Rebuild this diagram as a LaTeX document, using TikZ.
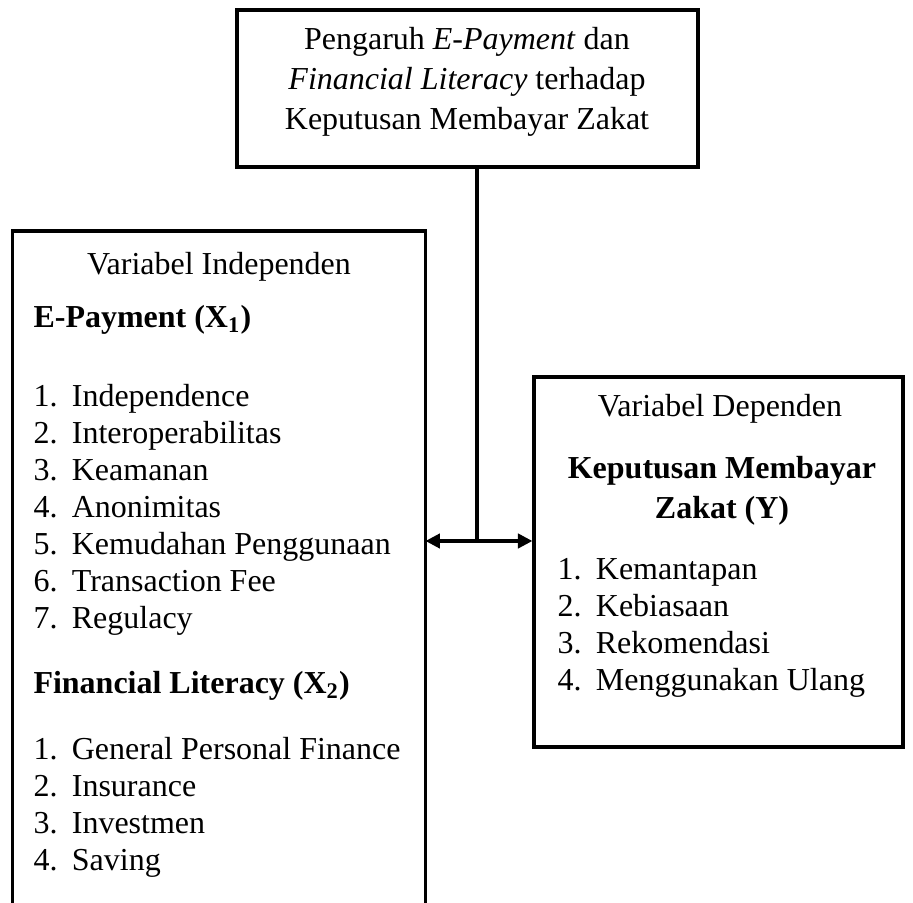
\documentclass[tikz,border=0pt]{standalone}
\usepackage{fontspec}
\setmainfont{Liberation Serif}
\usetikzlibrary{arrows.meta}
\tikzset{>={Triangle[length=5.5pt,width=5.5pt]},every node/.style={font=\fontsize{12.25}{14}\selectfont,inner sep=0pt},
  box/.style={draw,line width=1.3pt},frame/.style={line width=1.3pt},link/.style={line width=1.2pt},
  txt/.style={anchor=base west},mid/.style={anchor=base}}
\newcommand{\nomor}[1]{\hbox to 14.7pt{#1.\hfil}}

\begin{document}
\begin{tikzpicture}[x=0.383pt,y=-0.383pt]
\useasboundingbox (0,0) rectangle (913,903);
% kotak
\node[box,minimum width=176.6pt,minimum height=60.1pt] (judul) at (467.5,88.5) {};
\node[minimum width=157.8pt,minimum height=260pt] (kiri) at (219,571) {};
\draw[frame] (kiri.south west) -- (kiri.north west) -- (kiri.north east) -- (kiri.south east);
\node[box,minimum width=141.3pt,minimum height=141.7pt] (kanan) at (718.5,562) {};
% judul
\node[mid] (j1) at (467,50) {Pengaruh \textit{E-Payment} dan};
\node[mid] (j2) at (467,90) {\textit{Financial Literacy} terhadap};
\node[mid] (j3) at (467,130) {Keputusan Membayar Zakat};
% variabel independen
\node[mid] (vi) at (219,275) {Variabel Independen};
\node[txt] (x1) at (33,328) {\textbf{E-Payment (X\textsubscript{1})}};
\foreach \t [count=\i] in {Independence,Interoperabilitas,Keamanan,Anonimitas,Kemudahan Penggunaan,Transaction Fee,Regulacy}
  {\node[txt] (ep\i) at (33,{407+37*(\i-1)}) {\nomor{\i}\t};}
\node[txt] (x2) at (33,694) {\textbf{Financial Literacy (X\textsubscript{2})}};
\foreach \t [count=\i] in {General Personal Finance,Insurance,Investmen,Saving}
  {\node[txt] (fl\i) at (33,{760+37*(\i-1)}) {\nomor{\i}\t};}
% variabel dependen
\node[mid] (vd) at (720,417) {Variabel Dependen};
\node[mid] (y1) at (722,479) {\textbf{Keputusan Membayar}};
\node[mid] (y2) at (722,519) {\textbf{Zakat (Y)}};
\foreach \t [count=\i] in {Kemantapan,Kebiasaan,Rekomendasi,Menggunakan Ulang}
  {\node[txt] (kz\i) at (557,{580+37*(\i-1)}) {\nomor{\i}\t};}
% garis
\coordinate (tengah) at (477,541);
\draw[link] (tengah |- judul.south) -- (tengah);
\draw[link,<->] (kiri.east |- tengah) -- (kanan.west |- tengah);
\end{tikzpicture}
\end{document}
